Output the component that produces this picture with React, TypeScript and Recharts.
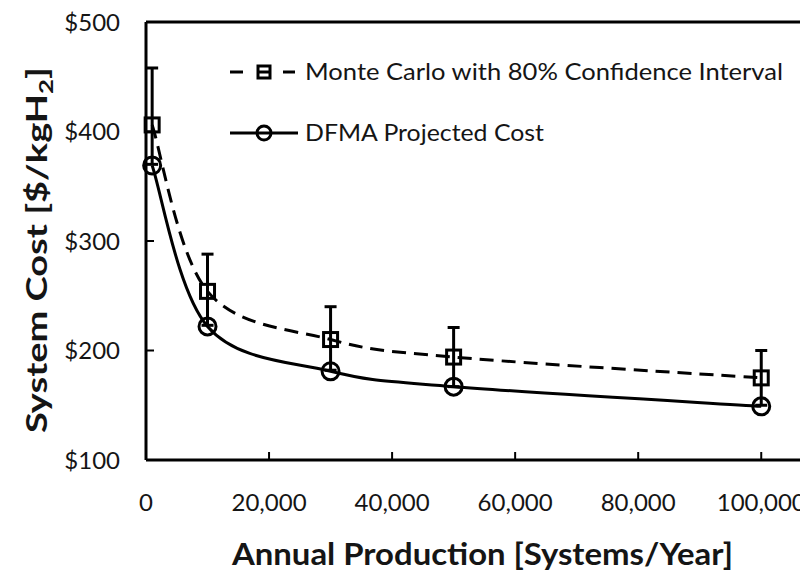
import React from 'react';
import { LineChart, Line, XAxis, YAxis, ErrorBar, ReferenceLine, Legend, Label } from 'recharts';

// ---- data ----
const productionVolumes = [1000, 10000, 30000, 50000, 100000];
const monteCarloCost = [406, 254, 210, 194, 175];
const monteCarloLower = [370, 223, 182, 167, 150];
const monteCarloUpper = [458, 288, 240, 221, 200];
const dfmaCost = [369, 222, 181, 167, 149];
const xTicks = [0, 20000, 40000, 60000, 80000, 100000];
const yTicks = [100, 200, 300, 400, 500];
const seriesNames = ['Monte Carlo with 80% Confidence Interval', 'DFMA Projected Cost'];
const xTitle = 'Annual Production [Systems/Year]';

const data = productionVolumes.map((x, i) => ({
  x,
  mc: monteCarloCost[i],
  dfma: dfmaCost[i],
  mcErr: [monteCarloCost[i] - monteCarloLower[i], monteCarloUpper[i] - monteCarloCost[i]],
}));

const FONT = 'Lato, "Open Sans", "DejaVu Sans", sans-serif';
const INK = '#151515';

// Excel-like smoothed line (Catmull-Rom Bezier)
const excelSmooth: any = (context: any) => {
  let pts: number[][] = [];
  return {
    areaStart() {},
    areaEnd() {},
    lineStart() {
      pts = [];
    },
    point(x: number, y: number) {
      pts.push([+x, +y]);
    },
    lineEnd() {
      const n = pts.length;
      if (!n) return;
      context.moveTo(pts[0][0], pts[0][1]);
      for (let i = 0; i < n - 1; i++) {
        const p0 = pts[Math.max(0, i - 1)];
        const p1 = pts[i];
        const p2 = pts[i + 1];
        const p3 = pts[Math.min(n - 1, i + 2)];
        context.bezierCurveTo(
          p1[0] + (p2[0] - p0[0]) / 6,
          p1[1] + (p2[1] - p0[1]) / 6,
          p2[0] - (p3[0] - p1[0]) / 6,
          p2[1] - (p3[1] - p1[1]) / 6,
          p2[0],
          p2[1]
        );
      }
    },
  };
};

const SquareDot = (props: any) => {
  const { cx, cy, index } = props;
  if (cx == null || cy == null) return null;
  return (
    <rect
      key={`sq-${index}`}
      x={cx - 7}
      y={cy - 7}
      width={14}
      height={14}
      fill="none"
      stroke="#000"
      strokeWidth={3}
    />
  );
};

const CircleDot = (props: any) => {
  const { cx, cy, index } = props;
  if (cx == null || cy == null) return null;
  return <circle key={`ci-${index}`} cx={cx} cy={cy} r={8.5} fill="none" stroke="#000" strokeWidth={3} />;
};

const XTick = (props: any) => {
  const { x, y, payload } = props;
  return (
    <text x={x} y={y + 17} textAnchor="middle" fontFamily={FONT} fontSize={24} fill={INK}>
      {Number(payload.value).toLocaleString('en-US')}
    </text>
  );
};

const YTitle = (props: any) => {
  const vb = props.viewBox || { x: 0, y: 14, width: 138, height: 438 };
  const cx = vb.x + 39;
  const cy = vb.y + 228;
  return (
    <text
      transform={`translate(${cx},${cy}) rotate(-90)`}
      textAnchor="middle"
      fontFamily={FONT}
      fontWeight={700}
      fontSize={28}
      fill={INK}
      textLength={366}
      lengthAdjust="spacingAndGlyphs"
    >
      System Cost [$/kgH
      <tspan fontSize={19} dy={6}>
        2
      </tspan>
      <tspan dy={-6}>]</tspan>
    </text>
  );
};

const XTitle = (props: any) => {
  const vb = props.viewBox || { x: 138, y: 452, width: 662, height: 112 };
  return (
    <text
      x={vb.x + vb.width / 2 + 5.5}
      y={vb.y + 105}
      textAnchor="middle"
      fontFamily={FONT}
      fontWeight={700}
      fontSize={31}
      fill={INK}
      textLength={501}
      lengthAdjust="spacingAndGlyphs"
    >
      {xTitle}
    </text>
  );
};

const LegendContent = () => (
  <svg width={800} height={160} style={{ display: 'block', overflow: 'visible' }}>
    <g stroke="#000" strokeWidth={3} fill="none">
      <line x1={222} y1={64} x2={235} y2={64} />
      <rect x={250} y={58} width={12} height={12} />
      <line x1={250} y1={64} x2={262} y2={64} />
      <line x1={275} y1={64} x2={287} y2={64} />
      <line x1={222} y1={125} x2={290} y2={125} />
      <circle cx={256} cy={125} r={7} />
    </g>
    <text x={297} y={72} fontFamily={FONT} fontSize={23} fill={INK} textLength={478} lengthAdjust="spacingAndGlyphs">
      {seriesNames[0]}
    </text>
    <text x={297} y={133} fontFamily={FONT} fontSize={23} fill={INK} textLength={239} lengthAdjust="spacingAndGlyphs">
      {seriesNames[1]}
    </text>
  </svg>
);

export default function App() {
  return (
    <div style={{ width: 800, height: 564 }}>
      <style>{'html, body { overflow: hidden; }'}</style>
      <LineChart
        width={800}
        height={564}
        data={data}
        margin={{ top: 14, right: 0, bottom: 0, left: 0 }}
        style={{ fontFamily: FONT }}
      >
        <XAxis
          type="number"
          dataKey="x"
          domain={[0, 107600]}
          ticks={xTicks}
          interval={0}
          height={112}
          axisLine={{ stroke: '#000', strokeWidth: 3 }}
          tickLine={{ stroke: '#000', strokeWidth: 2 }}
          tickSize={-8}
          tickMargin={42}
          tick={XTick}
        >
          <Label content={XTitle} />
        </XAxis>
        <YAxis
          type="number"
          domain={[100, 500]}
          ticks={yTicks}
          interval={0}
          width={138}
          tickFormatter={(v: number) => `$${v}`}
          axisLine={{ stroke: '#000', strokeWidth: 3 }}
          tickLine={{ stroke: '#000', strokeWidth: 2 }}
          tickSize={-8}
          tickMargin={34}
          tick={{ fontSize: 24, fill: INK, fontFamily: FONT }}
        >
          <Label content={YTitle} />
        </YAxis>
        <ReferenceLine y={500} stroke="#000" strokeWidth={3} />
        <Legend
          verticalAlign="middle"
          align="center"
          content={LegendContent}
          wrapperStyle={{ left: 0, top: 0, width: 800, height: 160, pointerEvents: 'none' }}
        />
        <Line
          dataKey="dfma"
          name={seriesNames[1]}
          type={excelSmooth}
          stroke="#000"
          strokeWidth={3}
          dot={CircleDot}
          activeDot={false}
          isAnimationActive={false}
        />
        <Line
          dataKey="mc"
          name={seriesNames[0]}
          type={excelSmooth}
          stroke="#000"
          strokeWidth={3}
          strokeDasharray="14 8"
          dot={SquareDot}
          activeDot={false}
          isAnimationActive={false}
        >
          <ErrorBar dataKey="mcErr" direction="y" width={6} strokeWidth={3} stroke="#000" isAnimationActive={false} />
        </Line>
      </LineChart>
    </div>
  );
}
